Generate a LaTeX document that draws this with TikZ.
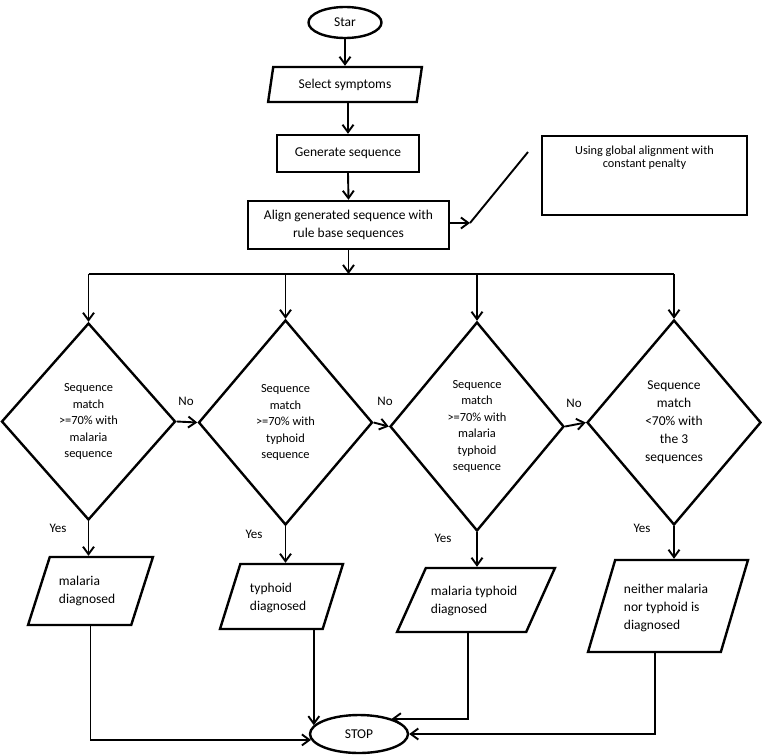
\documentclass[tikz,border=0pt]{standalone}
\usepackage{fontspec}
\setmainfont{Carlito}
\usetikzlibrary{shapes.geometric,arrows.meta,calc}
\begin{document}
\begin{tikzpicture}[x=1pt,y=-1pt,
  line width=1.9pt,
  arr/.style={line width=1.9pt, -{Straight Barb[length=7.5pt,width=11pt]}},
  shp/.style={draw, line width=2.4pt},
  box/.style={shp, rectangle, inner sep=0pt, align=center, font=\fontsize{13.5}{18}\selectfont},
  term/.style={shp, ellipse, inner sep=0pt, font=\fontsize{13.5}{18}\selectfont},
  para/.style={shp, trapezium, trapezium stretches=true, inner sep=1pt},
  dec/.style={shp, diamond, inner sep=0pt, minimum width=174pt, align=center, font=\fontsize{12.4}{16.5}\selectfont},
  lbl/.style={font=\fontsize{13}{16}\selectfont, inner sep=0pt},
  ptext/.style={font=\fontsize{13.5}{18}\selectfont, align=left, anchor=west, inner sep=0pt}
]
\useasboundingbox (0,0) rectangle (762,755);

% top chain
\node[term, minimum width=73pt, minimum height=31pt] (star) at (345,22.5) {Star};
\node[para, minimum width=154pt, minimum height=35pt, trapezium left angle=76, trapezium right angle=104, font=\fontsize{13.5}{18}\selectfont] (sel) at (345,84.5) {Select symptoms};
\node[box, minimum width=142pt, minimum height=37pt] (gen) at (348,153.5) {Generate sequence};
\node[box, minimum width=201pt, minimum height=48pt] (align) at (348.5,225) {Align generated sequence with\\rule base sequences};

% note
\node[shp, rectangle, minimum width=205pt, minimum height=79pt] (note) at (644.5,175.5) {};
\node[font=\fontsize{12.3}{12.5}\selectfont, align=center, inner sep=0pt] (notetext) at (644.5,157.5) {Using global alignment with\\constant penalty};

\draw[arr] (star.south) -- (star.south |- sel.north);
\draw[arr] (sel.south -| gen.north) -- (gen.north);
\draw[arr] (gen.south) -- (align.north);

\coordinate (c1) at (470,223);
\coordinate (c2) at (528,152);
\draw[arr] (align.east |- c1) -- (c1);
\draw (c1) -- (c2);

% branch
\coordinate (bj) at (348.5,274);
\coordinate (bl) at (88.5,274);
\coordinate (br) at (674,274);
\draw[arr] (align.south) -- (bj);
\draw (bl) -- (br);

% diamonds
\node[dec, minimum height=197pt] (d1) at (88.5,421.5) {Sequence\\match\\>=70\% with\\malaria\\sequence};
\node[dec, minimum height=205pt] (d2) at (285.5,422.5) {Sequence\\match\\>=70\% with\\typhoid\\sequence};
\node[dec, minimum height=209pt] (d3) at (477,426.5) {Sequence\\match\\>=70\% with\\malaria\\typhoid\\sequence};
\node[dec, minimum height=205pt, font=\fontsize{13.5}{18}\selectfont] (d4) at (674,422.5) {Sequence\\match\\<70\% with\\the 3\\sequences};

\draw[arr] (bl) -- (d1.north);
\draw[arr] (d2.north |- bl) -- (d2.north);
\draw[arr] (d3.north |- bl) -- (d3.north);
\draw[arr] (br) -- (d4.north);

\draw[arr] (d1.east) -- (d2.west);
\draw[arr] (d2.east) -- (d3.west);
\draw[arr] (d3.east) -- (d4.west);

\node[lbl] (no1) at (186,401) {No};
\node[lbl] (no2) at (385,401) {No};
\node[lbl] (no3) at (574,403) {No};

\node[lbl] (y1) at (58,528) {Yes};
\node[lbl] (y2) at (254,534) {Yes};
\node[lbl] (y3) at (443,538) {Yes};
\node[lbl] (y4) at (642,528) {Yes};

% outputs
\node[para, minimum width=125pt, minimum height=68pt, trapezium left angle=76, trapezium right angle=104] (p1) at (90.5,591) {\phantom{x}};
\node[para, minimum width=123pt, minimum height=65pt, trapezium left angle=77, trapezium right angle=103] (p2) at (281.5,596.5) {\phantom{x}};
\node[para, minimum width=158pt, minimum height=64pt, trapezium left angle=75, trapezium right angle=105] (p3) at (476,600) {\phantom{x}};
\node[para, minimum width=160pt, minimum height=92pt, trapezium left angle=76.5, trapezium right angle=103.5] (p4) at (668,606) {\phantom{x}};

\node[ptext] (t1) at (58,591) {malaria\\diagnosed};
\node[ptext] (t2) at (249,598) {typhoid\\diagnosed};
\node[ptext] (t3) at (430,600.5) {malaria typhoid\\diagnosed};
\node[ptext] (t4) at (623,607.5) {neither malaria\\nor typhoid is\\diagnosed};

\draw[arr] (d1.south) -- (d1.south |- p1.north);
\draw[arr] (d2.south) -- (d2.south |- p2.north);
\draw[arr] (d3.south) -- (d3.south |- p3.north);
\draw[arr] (d4.south) -- (d4.south |- p4.north);

% stop
\node[term, minimum width=98pt, minimum height=38pt] (stop) at (359,734) {STOP};

\draw[arr] (p1.south) |- (stop.187);
\draw[arr] (stop.169 |- p2.south) -- (stop.169);
\draw[arr] ([xshift=-8pt]p3.south) |- (stop.25);
\draw[arr] ([xshift=-13pt]p4.south) |- (stop.east);
\end{tikzpicture}
\end{document}
